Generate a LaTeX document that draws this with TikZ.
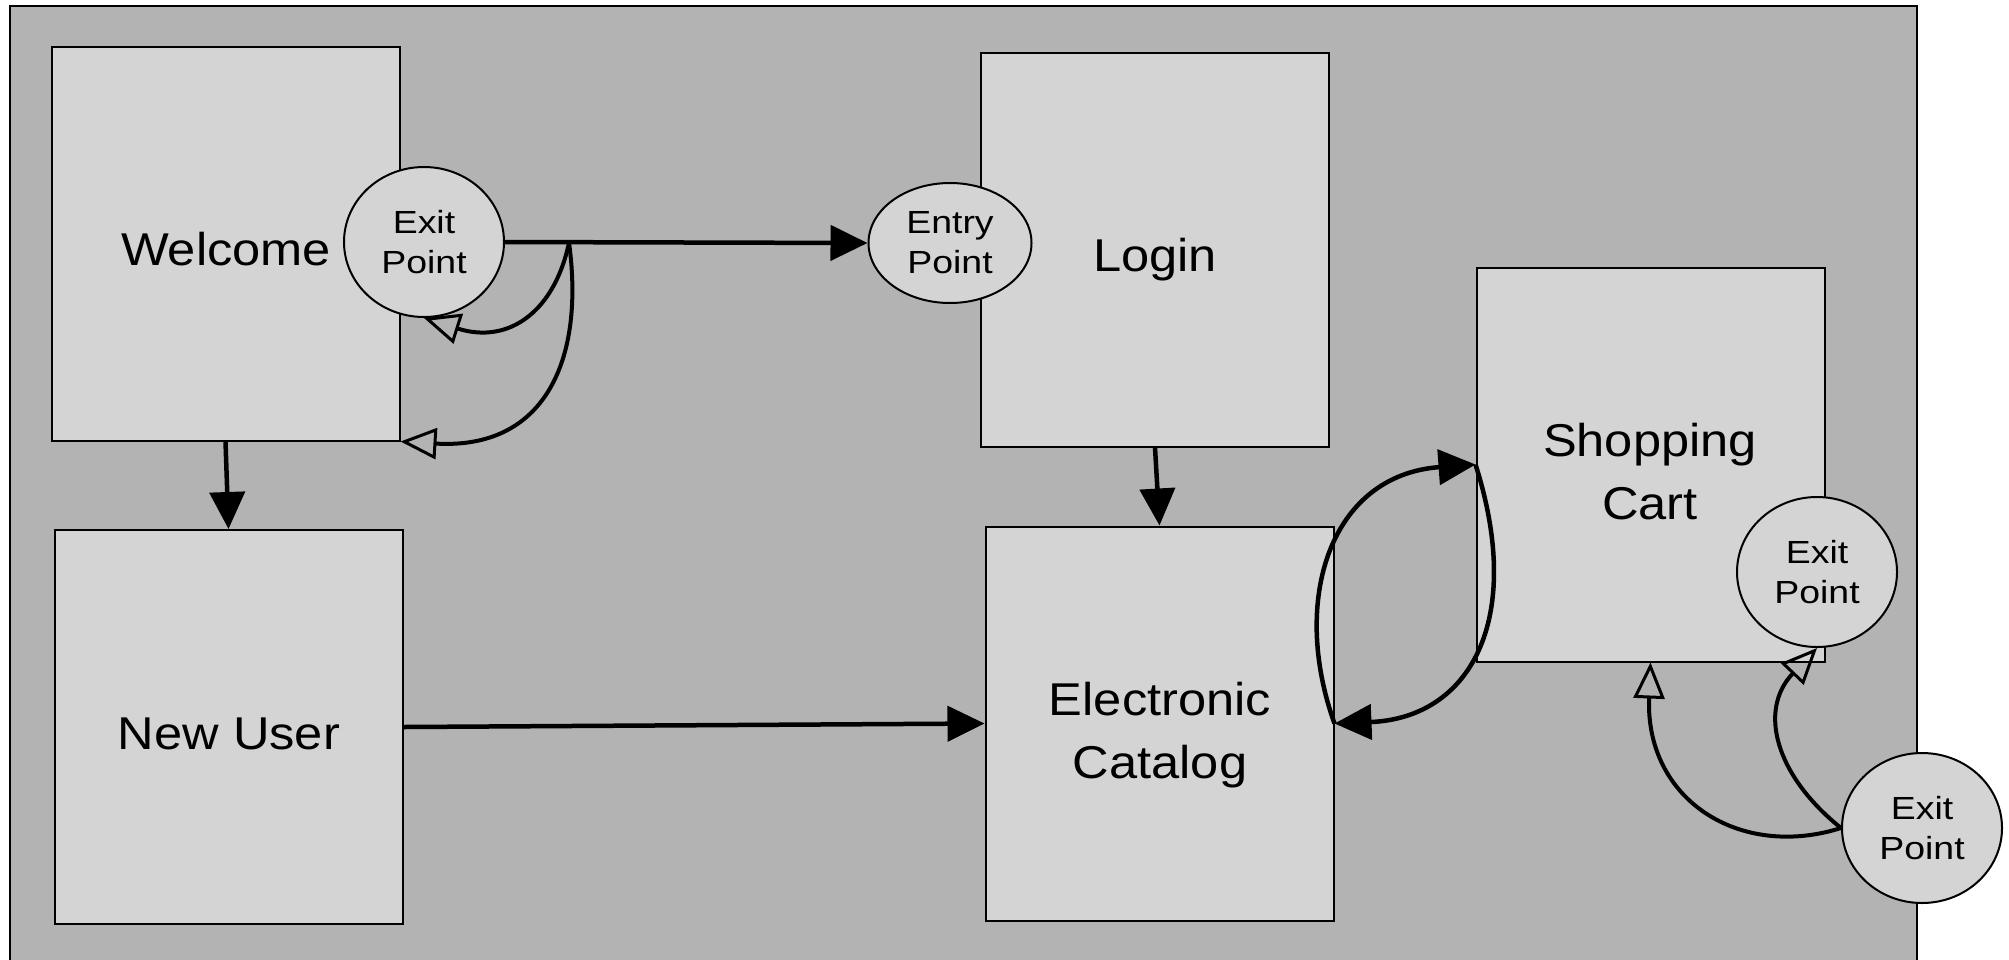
\documentclass[tikz,border=0pt]{standalone}
\usepackage{fontspec}
\setmainfont{Liberation Sans}
\newfontfamily\bigfont[FakeStretch=1.1]{Liberation Sans}
\newfontfamily\smallfont[FakeStretch=1.17]{Liberation Sans}
\usepackage{tikz}
\usetikzlibrary{arrows.meta,shapes.geometric}
\definecolor{paper}{HTML}{B3B3B3}
\definecolor{pane}{HTML}{D4D4D4}
\tikzset{
  frame/.style={fill=paper, draw=black, line width=2pt},
  box/.style={draw=black, fill=pane, line width=2pt, inner sep=0pt, minimum width=348pt, minimum height=394pt},
  port/.style={ellipse, draw=black, fill=pane, line width=2pt, inner sep=0pt, minimum width=160pt, minimum height=150pt, align=center, font=\smallfont\fontsize{32}{40}\selectfont},
  lab/.style={align=center, font=\bigfont\fontsize{46}{63}\selectfont},
  flow/.style={draw=black, line width=4.5pt, -{Triangle[length=37pt,width=35pt]}},
  ret/.style={draw=black, line width=4pt, -{Triangle[open,length=36pt,width=31pt,line width=3pt]}},
}
\begin{document}
\begin{tikzpicture}[x=1pt,y=-1pt]
  \useasboundingbox (0,0) rectangle (2009,959);
  \fill[white] (0,0) rectangle (2009,959);
  \draw[frame] (10,6) rectangle (1917,975);
  \foreach \N/\X/\Y in {welcome/225.5/243.5,newuser/228.5/727,login/1155/249.5,ecat/1159.5/723.5,cart/1650.5/464.5}
    \node[box] (\N) at (\X,\Y) {};
  \node[lab] (welcomeT) at (226,249) {Welcome};
  \node[lab] (newuserT) at (229,734) {New User};
  \node[lab] (loginT) at (1155,260) {Login};
  \node[lab] (ecatT) at (1160,735) {Electronic\\Catalog};
  \node[lab] (cartT) at (1650,471.5) {Shopping\\Cart};
  \foreach \N/\X/\Y in {wexit/424/242,cexit/1817/572,bexit/1922/828}
    \node[port] (\N) at (\X,\Y) {Exit\\Point};
  \node[port, minimum width=163pt, minimum height=120pt] (entry) at (950,243) {Entry\\Point};
  \coordinate (split) at (569,242.5);
  \draw[flow] (wexit.east) -- (entry.west);
  \draw[flow] (welcome.south) -- (newuser.north);
  \draw[flow] (login.south) -- (ecat.north);
  \draw[flow] (newuser.east) -- (ecat.west);
  \draw[flow] (ecat.east) .. controls (1290,600) and (1330,475) .. (cart.west);
  \draw[flow] (cart.west) .. controls (1525,620) and (1470,718) .. (ecat.east);
  \draw[ret] (split) .. controls (555,310) and (510,345) .. (wexit.south);
  \draw[ret] (split) .. controls (585,360) and (545,450) .. (welcome.south east);
  \draw[ret] (bexit.west) .. controls (1740,860) and (1645,800) .. (cart.south);
  \draw[ret] (bexit.west) .. controls (1775,775) and (1758,710) .. (cexit.south);
\end{tikzpicture}
\end{document}
